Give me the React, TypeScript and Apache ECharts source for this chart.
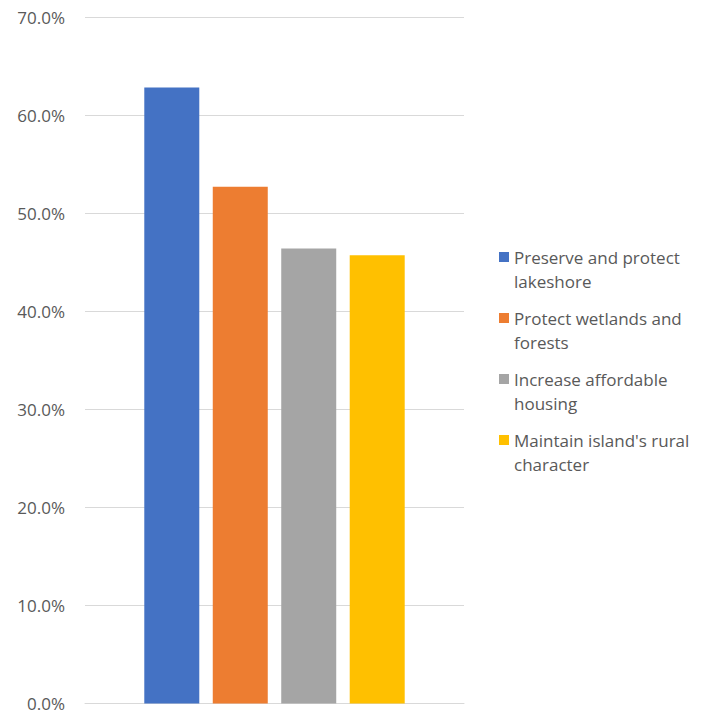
import React, { useEffect, useRef } from "react";
import * as echarts from "echarts";

const categories = ["Priorities"];
const seriesNames = [
  "Preserve and protect\nlakeshore",
  "Protect wetlands and\nforests",
  "Increase affordable\nhousing",
  "Maintain island's rural\ncharacter",
];
const seriesValues = [0.628, 0.527, 0.464, 0.457];
const seriesColors = ["#4472C4", "#ED7D31", "#A5A5A5", "#FFC000"];
const yTicks = [0, 0.1, 0.2, 0.3, 0.4, 0.5, 0.6, 0.7];

const FONT = "'Open Sans', Lato, sans-serif";

export default function App() {
  const ref = useRef<HTMLDivElement>(null);
  useEffect(() => {
    if (!ref.current) return;
    const chart = echarts.init(ref.current, undefined, { renderer: "svg" });
    const legendGraphics: any[] = [];
    seriesNames.forEach((name, i) => {
      const top = 251 + i * 61;
      legendGraphics.push({
        type: "rect",
        left: 499,
        top: top + 1,
        shape: { width: 10, height: 10 },
        style: { fill: seriesColors[i] },
      });
      legendGraphics.push({
        type: "text",
        left: 514,
        top: top - 6,
        style: {
          text: name,
          fill: "#595959",
          font: `17px ${FONT}`,
          lineHeight: 24,
        },
      });
    });
    chart.setOption({
      animation: false,
      grid: { left: 85, right: 242, top: 17, bottom: 10.5, containLabel: false },
      xAxis: {
        type: "category",
        data: categories,
        axisLabel: { show: false },
        axisTick: { show: false },
        axisLine: { show: true, lineStyle: { color: "#D9D9D9", width: 1 } },
      },
      yAxis: {
        type: "value",
        min: yTicks[0],
        max: yTicks[yTicks.length - 1],
        interval: 0.1,
        axisLine: { show: false },
        axisTick: { show: false },
        splitLine: { lineStyle: { color: "#D9D9D9", width: 1 } },
        axisLabel: {
          color: "#595959",
          fontSize: 17,
          fontFamily: FONT,
          margin: 20,
          formatter: (v: number) => (v * 100).toFixed(1) + "%",
        },
      },
      series: seriesNames.map((name, i) => ({
        type: "bar",
        name,
        data: [seriesValues[i]],
        barWidth: 55,
        barGap: "24.5%",
        itemStyle: { color: seriesColors[i] },
      })),
      graphic: legendGraphics,
    });
    return () => chart.dispose();
  }, []);
  return (
    <div
      ref={ref}
      style={{ position: "fixed", left: 0, top: 0, width: 706, height: 714, background: "#fff" }}
    />
  );
}
